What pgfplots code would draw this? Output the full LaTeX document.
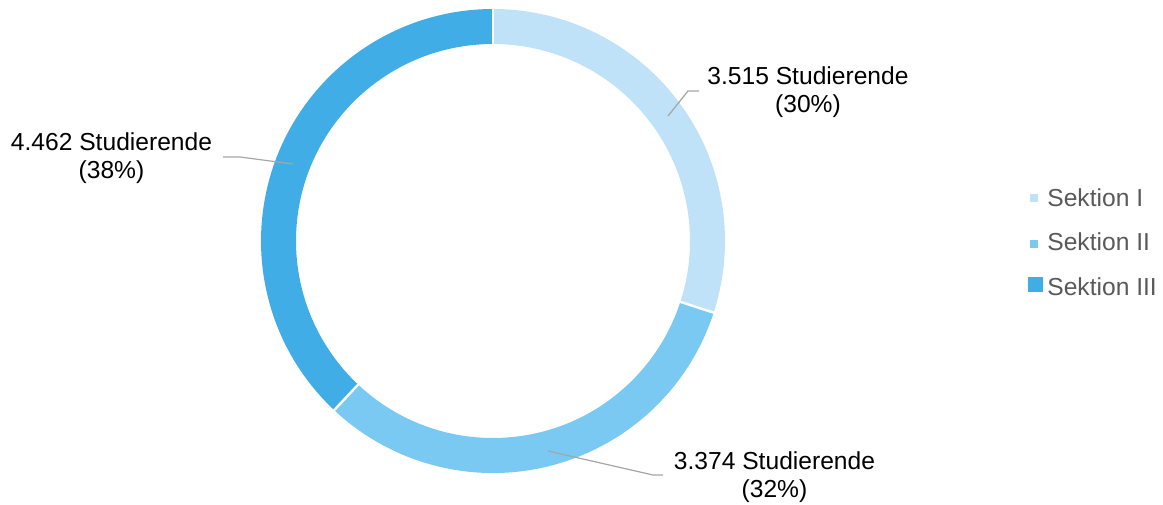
\documentclass[border=0pt]{standalone}
\usepackage{pgfplots}
\pgfplotsset{compat=1.18}
\usepackage{pgfplotstable}
\usepackage{fontspec}
\setmainfont{Liberation Sans}

\definecolor{sekI}{HTML}{BFE2F8}
\definecolor{sekII}{HTML}{79C9F2}
\definecolor{sekIII}{HTML}{41ADE7}
\definecolor{leader}{HTML}{A6A6A6}
\definecolor{legtext}{HTML}{595959}

\begin{document}
\pgfplotstableread{
sektion count pct
I       3515  30
II      3374  32
III     4462  38
}\datatable

\begin{tikzpicture}
% shares -> angles (clockwise from 12 o'clock)
\pgfplotstablegetelem{0}{pct}\of\datatable \edef\pA{\pgfplotsretval}
\pgfplotstablegetelem{1}{pct}\of\datatable \edef\pB{\pgfplotsretval}
\pgfplotstablegetelem{2}{pct}\of\datatable \edef\pC{\pgfplotsretval}
\pgfmathsetmacro{\aA}{90}
\pgfmathsetmacro{\aB}{\aA-3.6*\pA}
\pgfmathsetmacro{\aC}{\aB-3.6*\pB}
\pgfmathsetmacro{\aD}{\aC-3.6*\pC}
\def\Ro{116pt}% outer radius (232 units)
\def\Ri{98.5pt}% inner radius (197 units)
\newcommand{\slice}[3]{%
  \fill[#3] (axis cs:{232*cos(#1)},{232*sin(#1)})
    arc[start angle=#1, end angle=#2, radius=\Ro]
    -- (axis cs:{197*cos(#2)},{197*sin(#2)})
    arc[start angle=#2, end angle=#1, radius=\Ri] -- cycle;}
\newcommand{\gap}[1]{%
  \draw[white, line width=1.2pt] (axis cs:{194*cos(#1)},{194*sin(#1)})
    -- (axis cs:{235*cos(#1)},{235*sin(#1)});}
\begin{axis}[
    x=0.5pt, y=0.5pt,
    xmin=-493, xmax=670,
    ymin=-263, ymax=241,
    hide axis,
    clip=false,
]
\path (axis cs:-493,-263) rectangle (axis cs:670,241);

\slice{\aA}{\aB}{sekI}
\slice{\aB}{\aC}{sekII}
\slice{\aC}{\aD}{sekIII}
\gap{\aA}
\gap{\aB}
\gap{\aC}

% leader lines
\draw[leader, line width=0.6pt] (axis cs:175,125) -- (axis cs:195,150) -- (axis cs:206,150);
\draw[leader, line width=0.6pt] (axis cs:55,-210) -- (axis cs:160,-234) -- (axis cs:170,-234);
\draw[leader, line width=0.6pt] (axis cs:-200,77) -- (axis cs:-253,84) -- (axis cs:-270,84);

% data labels
\begin{scope}[every node/.style={align=center, inner sep=0pt, font=\fontsize{12.3}{14}\selectfont}]
\node at (axis cs:315,149) {3.515 Studierende\\(30\%)};
\node at (axis cs:281.5,-236) {3.374 Studierende\\(32\%)};
\node at (axis cs:-381.5,82.5) {4.462 Studierende\\(38\%)};
\end{scope}

% legend
\fill[sekI] (axis cs:537,39) rectangle (axis cs:545,47);
\fill[sekII] (axis cs:537,-7) rectangle (axis cs:545,1);
\fill[sekIII] (axis cs:535,-51) rectangle (axis cs:550,-36);
\begin{scope}[every node/.style={anchor=west, inner sep=0pt, text=legtext, font=\fontsize{12.3}{14}\selectfont}]
\node at (axis cs:554,43) {Sektion I};
\node at (axis cs:554,-1) {Sektion II};
\node at (axis cs:554,-46) {Sektion III};
\end{scope}
\end{axis}
\end{tikzpicture}
\end{document}
